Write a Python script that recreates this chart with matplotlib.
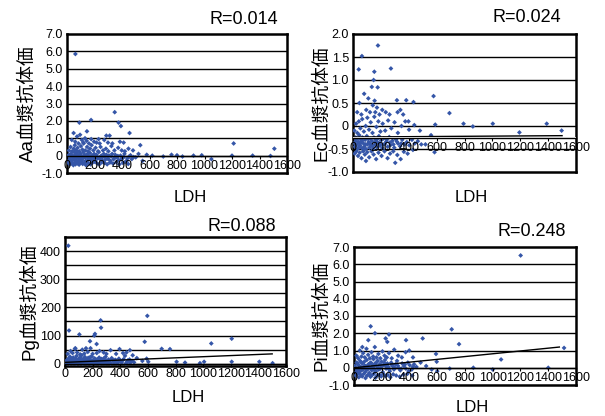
import matplotlib
matplotlib.use("Agg")
import matplotlib.pyplot as plt
import numpy as np

plt.rcParams['font.family'] = ['Liberation Sans', 'Noto Sans CJK JP', 'DejaVu Sans']

# ---------------- data ----------------
x_ticks = [0, 200, 400, 600, 800, 1000, 1200, 1400, 1600]

aa_points = [
    (8,-0.1),(15,0.05),(22,-0.2),(28,0.1),(33,-0.3),(41,0.0),(47,-0.15),(52,0.2),(58,-0.25),(63,0.05),
    (69,-0.1),(74,0.15),(81,-0.3),(86,0.0),(92,-0.2),(98,0.1),(104,-0.05),(111,-0.25),(117,0.2),(123,-0.1),
    (129,0.05),(136,-0.3),(142,0.0),(149,0.1),(155,-0.2),(162,-0.05),(168,0.15),(175,-0.25),(183,0.0),(190,-0.1),
    (198,0.1),(206,-0.3),(214,0.05),(223,-0.15),(231,0.2),(240,-0.2),(249,0.0),(258,-0.1),(268,0.1),(277,-0.25),
    (287,0.05),(296,-0.15),(306,0.0),(317,-0.3),(328,0.1),(339,-0.2),(351,0.05),(363,-0.1),(376,-0.25),(389,0.0),
    (403,-0.15),(418,0.1),(434,-0.3),(452,-0.05),(471,-0.2),
    (5,-0.05),(17,-0.25),(25,-0.08),(43,-0.22),(54,-0.02),(67,-0.18),(83,-0.06),(100,-0.17),(119,-0.02),(134,-0.12),
    (151,-0.04),(166,-0.18),(181,-0.08),(199,-0.22),(218,-0.05),(236,-0.12),(255,-0.28),(275,-0.06),(300,-0.2),(322,-0.04),
    (345,-0.14),(370,-0.02),(395,-0.22),(412,-0.08),(440,-0.16),(462,0.02),(485,-0.08),
    (10,-0.4),(20,-0.5),(30,-0.35),(38,-0.45),(46,-0.55),(55,-0.4),(62,-0.5),(71,-0.38),(79,-0.45),(88,-0.52),
    (96,-0.4),(107,-0.35),(114,-0.48),(126,-0.42),(138,-0.55),(147,-0.38),(158,-0.45),(171,-0.5),(186,-0.4),(201,-0.35),
    (219,-0.45),(236,-0.5),(254,-0.38),(273,-0.42),(292,-0.5),(312,-0.4),(334,-0.45),(358,-0.38),(381,-0.5),(407,-0.42),
    (426,-0.35),(445,-0.48),
    (14,0.3),(26,0.5),(37,0.25),(49,0.4),(57,0.6),(66,0.3),(77,0.45),(89,0.25),(101,0.55),(112,0.35),
    (121,0.7),(133,0.3),(146,0.5),(153,0.25),(167,0.4),(179,0.6),(192,0.3),(208,0.45),(226,0.25),(244,0.5),
    (262,0.3),(283,0.4),(301,0.25),(323,0.55),(345,0.3),(372,0.45),(398,0.3),(421,0.25),(447,0.4),(480,0.3),
    (35,0.9),(48,1.3),(60,0.8),(73,1.1),(84,0.7),(95,1.2),(108,0.9),(119,0.75),(131,1.0),(143,0.85),
    (160,0.7),(176,0.95),(197,0.8),(215,0.75),(238,0.7),(271,0.9),(298,0.75),(330,0.7),(385,0.8),(412,0.75),
    (61,5.85),(90,1.9),(175,2.05),(347,2.5),(375,1.9),(392,1.7),(455,1.3),(286,1.15),(310,1.15),(230,0.95),
    (145,1.4),(533,0.6),(1212,0.7),(1508,0.4),(580,0.05),(620,0.0),(700,-0.05),(760,0.05),(800,0.02),(840,-0.05),
    (920,0.0),(980,0.02),(1050,-0.2),(1200,0.0),(1350,0.0),(1480,-0.02),(500,-0.1),(520,0.1),(550,-0.3),
]

ec_points = [
    (8,-0.3),(14,-0.45),(20,-0.25),(27,-0.4),(33,-0.5),(39,-0.35),(45,-0.2),(51,-0.42),(57,-0.3),(63,-0.48),
    (69,-0.25),(75,-0.38),(81,-0.45),(87,-0.3),(93,-0.5),(99,-0.22),(105,-0.4),(112,-0.35),(118,-0.47),(124,-0.28),
    (131,-0.42),(137,-0.33),(144,-0.5),(150,-0.25),(157,-0.4),(164,-0.3),(171,-0.46),(178,-0.36),(186,-0.22),(194,-0.43),
    (202,-0.31),(211,-0.48),(220,-0.27),(229,-0.39),(239,-0.34),(249,-0.45),(260,-0.24),(271,-0.41),(283,-0.32),(296,-0.47),
    (309,-0.29),(323,-0.38),(338,-0.44),(353,-0.3),(369,-0.4),(386,-0.35),(404,-0.42),(423,-0.3),(443,-0.38),(465,-0.33),
    (490,-0.4),
    (5,-0.36),(17,-0.33),(30,-0.28),(42,-0.46),(54,-0.37),(66,-0.32),(78,-0.5),(90,-0.4),(108,-0.28),(121,-0.38),
    (140,-0.44),(160,-0.35),(175,-0.28),(190,-0.38),(215,-0.4),(243,-0.3),(265,-0.36),(290,-0.4),(315,-0.34),(345,-0.38),
    (12,-0.6),(24,-0.55),(36,-0.65),(48,-0.58),(61,-0.7),(73,-0.55),(85,-0.62),(102,-0.57),(116,-0.68),(133,-0.55),
    (148,-0.62),(166,-0.72),(183,-0.58),(205,-0.65),(226,-0.55),(248,-0.7),(266,-0.6),(289,-0.55),(318,-0.63),(342,-0.72),
    (365,-0.56),(392,-0.6),(430,-0.52),
    (10,-0.1),(22,0.05),(31,-0.15),(42,0.1),(53,-0.05),(66,0.15),(78,-0.12),(91,0.0),(103,0.18),(115,-0.08),
    (127,0.08),(140,-0.15),(153,0.2),(168,-0.02),(182,0.1),(197,-0.12),(213,0.05),(231,-0.1),(252,0.12),(275,-0.05),
    (298,0.08),(322,-0.15),(348,0.0),(375,0.1),(402,-0.08),(440,0.02),(480,-0.1),
    (30,0.3),(46,0.5),(60,0.25),(80,0.7),(95,0.35),(110,0.6),(122,0.3),(135,0.85),(142,0.45),(155,0.55),
    (160,0.3),(172,0.4),(190,0.25),(210,0.35),(235,0.3),(262,0.25),(320,0.3),(340,0.35),(360,0.25),(398,0.1),
    (179,1.75),(64,1.52),(41,1.23),(153,1.18),(148,1.0),(272,1.25),(177,0.84),(578,0.65),(692,0.28),(315,0.56),
    (382,0.56),(434,0.52),(590,0.03),(793,0.05),(860,-0.01),(1003,0.05),(1194,-0.14),(1390,0.05),(1497,-0.1),(585,-0.57),
    (93,-0.76),(303,-0.8),(560,-0.2),(520,-0.4),
]

pg_points = [
    (6,5),(12,12),(18,3),(24,18),(30,8),(36,25),(42,4),(48,14),(54,9),(60,22),
    (66,3),(72,15),(78,7),(84,28),(90,11),(96,4),(102,19),(108,8),(114,13),(120,30),
    (126,5),(132,17),(138,10),(144,24),(150,6),(156,14),(162,9),(168,21),(174,4),(180,16),
    (187,11),(194,26),(201,6),(208,13),(215,19),(223,8),(231,15),(239,4),(247,22),(256,10),
    (265,17),(274,6),(284,12),(294,25),(304,8),(315,15),(326,5),(338,20),(350,10),(363,14),
    (376,6),(390,18),(404,9),(419,13),(434,28),(450,7),(467,15),(485,10),(500,5),
    (10,2),(20,6),(33,1),(45,7),(57,2),(69,5),(81,1),(93,6),(105,2),(117,4),
    (129,1),(141,7),(153,3),(165,2),(177,6),(189,1),(205,4),(220,2),(236,5),(252,1),
    (270,3),(290,2),(310,4),(330,1),(355,3),(380,2),(410,4),(440,1),(470,3),
    (15,9),(27,14),(39,10),(51,18),(63,11),(75,20),(87,8),(99,12),(111,22),(123,10),
    (135,14),(147,18),(159,12),(171,10),(183,24),(196,9),(212,16),(228,11),(244,14),(261,9),
    (279,18),(298,12),(320,10),(342,16),(368,12),(396,10),(425,16),(455,12),(480,8),
    (20,35),(40,45),(55,38),(75,55),(88,40),(110,33),(125,50),(140,36),(165,42),(185,55),
    (200,35),(230,38),(250,45),(280,40),(300,35),(330,48),(370,35),(395,52),(420,38),(445,40),
    (470,48),(490,30),
    (24,419),(29,118),(104,104),(181,80),(212,100),(217,106),(258,154),(261,128),(229,70),(152,55),
    (72,53),(596,170),(577,78),(591,18),(700,53),(760,52),(1059,72),(1207,89),(603,7),(808,7),
    (869,4),(977,2),(1007,7),(1207,7),(1407,7),(1503,2),(520,20),(560,10),
]

pi_points = [
    (8,0.0),(14,-0.2),(20,0.3),(26,-0.1),(32,0.15),(38,-0.3),(44,0.4),(50,0.05),(56,-0.15),(62,0.25),
    (68,-0.05),(74,0.35),(80,-0.25),(86,0.1),(92,0.45),(98,-0.1),(104,0.2),(110,-0.3),(116,0.0),(122,0.3),
    (128,-0.15),(134,0.15),(140,0.5),(146,-0.05),(152,0.25),(158,-0.2),(164,0.1),(171,0.4),(178,-0.1),(185,0.2),
    (192,0.0),(199,0.35),(207,-0.25),(215,0.15),(223,0.45),(231,-0.05),(240,0.25),(249,0.05),(258,-0.2),(268,0.3),
    (278,0.1),(288,-0.1),(299,0.2),(310,0.4),(322,0.0),(334,-0.15),(347,0.25),(360,0.1),(374,-0.05),(388,0.3),
    (402,0.15),(417,-0.1),(433,0.2),(450,0.05),
    (5,0.1),(17,-0.05),(29,0.2),(41,-0.18),(53,0.3),(65,0.0),(77,0.12),(89,-0.12),(101,0.05),(113,0.25),
    (125,-0.05),(137,0.08),(149,-0.15),(161,0.3),(174,0.02),(188,-0.05),(202,0.12),(218,0.28),(234,0.08),(252,-0.08),
    (272,0.18),(294,0.0),(316,0.12),(340,-0.05),(366,0.18),(394,-0.2),(425,0.05),
    (12,-0.45),(23,-0.35),(35,-0.55),(47,-0.4),(59,-0.5),(71,-0.35),(83,-0.6),(95,-0.45),(107,-0.38),(119,-0.52),
    (131,-0.42),(143,-0.35),(155,-0.58),(168,-0.45),(182,-0.4),(196,-0.5),(211,-0.36),(227,-0.48),(244,-0.42),(262,-0.55),
    (282,-0.38),(304,-0.45),(330,-0.52),(356,-0.4),(385,-0.35),(420,-0.45),
    (18,0.7),(30,0.55),(42,1.0),(54,0.65),(66,0.85),(78,0.6),(90,1.1),(102,0.75),(114,0.55),(126,0.9),
    (138,0.65),(150,1.2),(162,0.6),(176,0.8),(190,0.55),(205,0.95),(220,0.7),(236,0.6),(252,0.85),(272,0.55),
    (290,1.05),(318,0.7),(345,0.6),(372,0.9),(398,1.0),(425,0.6),
    (1201,6.51),(704,2.23),(757,1.37),(495,1.7),(375,1.6),(120,2.4),(151,2.0),(252,1.93),(228,1.7),(103,1.6),
    (591,0.8),(596,0.35),(1060,0.48),(1514,1.15),(480,0.3),(520,0.1),(560,-0.1),(600,-0.2),(690,-0.05),(860,0.0),
    (1000,-0.1),(1400,0.0),(240,1.5),(60,1.2),
]

# trend lines (start, end)
ec_trend_x = [0, 1500]; ec_trend_y = [-0.24, -0.21]
pg_trend_x = [0, 1500]; pg_trend_y = [5, 35]
pi_trend_x = [0, 1480]; pi_trend_y = [0.0, 1.2]

r_labels = ["R=0.014", "R=0.024", "R=0.088", "R=0.248"]
y_labels = ["Aa血漿抗体価", "Ec血漿抗体価", "Pg血漿抗体価", "Pi血漿抗体価"]

# ---------------- drawing ----------------
W, H = 605, 416
fig = plt.figure(figsize=(W / 100, H / 100), dpi=100)
fig.patch.set_facecolor('white')

def px_axes(left, top, right, bottom):
    return fig.add_axes([left / W, (H - bottom) / H, (right - left) / W, (bottom - top) / H])

DOT = '#3556a8'
TICKFS = 9

def fmt1(v):
    return "0" if v == 0 else f"{v:.1f}"

def panel(ax, pts, ylim, yticks, ylabels, grid, xaxis_y, trend=None):
    xs = [p[0] for p in pts]; ys = [p[1] for p in pts]
    ax.set_xlim(0, 1600)
    ax.set_ylim(*ylim)
    for g in grid:
        ax.axhline(g, color='black', lw=1.0, zorder=1)
    ax.scatter(xs, ys, s=6, marker='D', color=DOT, edgecolors='none', zorder=3)
    if trend is not None:
        ax.plot(trend[0], trend[1], color='black', lw=1.0, zorder=4)
    ax.set_xticks([])
    ax.set_yticks(yticks)
    ax.set_yticklabels(ylabels, fontsize=TICKFS)
    ax.tick_params(axis='y', length=0, pad=3)
    for s in ax.spines.values():
        s.set_linewidth(1.8)
        s.set_color('black')
    loc = (xaxis_y - ylim[0]) / (ylim[1] - ylim[0])
    sec = ax.secondary_xaxis(loc)
    sec.set_xticks(x_ticks)
    sec.set_xticklabels([str(v) for v in x_ticks], fontsize=TICKFS)
    sec.tick_params(axis='x', length=2, width=0.8, pad=1)
    sec.spines['bottom'].set_linewidth(1.0)
    sec.set_zorder(5)

ax1 = px_axes(67, 34, 287, 173)
yt = [-1, 0, 1, 2, 3, 4, 5, 6, 7]
panel(ax1, aa_points, (-1, 7), yt, [fmt1(v) for v in yt], yt[1:-1], 0)

ax2 = px_axes(353, 34, 576, 172)
yt2 = [-1.0, -0.5, 0, 0.5, 1.0, 1.5, 2.0]
panel(ax2, ec_points, (-1, 2), yt2, [fmt1(v) for v in yt2], [-0.5, 0, 0.5, 1.0, 1.5], -0.25,
      (ec_trend_x, ec_trend_y))

ax3 = px_axes(65, 237, 286, 366)
yt3 = [0, 100, 200, 300, 400]
panel(ax3, pg_points, (-8, 450), yt3, [str(v) for v in yt3], [0, 50, 100, 150, 200, 250, 300, 350, 400], 0,
      (pg_trend_x, pg_trend_y))

ax4 = px_axes(354, 247, 576, 385)
panel(ax4, pi_points, (-1, 7), yt, [fmt1(v) for v in yt], yt[1:-1], 0, (pi_trend_x, pi_trend_y))

# R labels
for (x, y), t in zip([(244, 19), (527, 17), (242, 227), (532, 232)], r_labels):
    fig.text(x / W, 1 - y / H, t, fontsize=13, ha='center', va='center')
# x labels
for (x, y) in [(190, 197), (471, 197), (188, 398), (472, 408)]:
    fig.text(x / W, 1 - y / H, "LDH", fontsize=12, ha='center', va='center')
# y labels
for (x, y), t in zip([(28, 104), (322, 103), (28, 302), (322, 316)], y_labels):
    fig.text(x / W, 1 - y / H, t, fontsize=13.5, ha='center', va='center', rotation=90,
             family=['Liberation Sans', 'Noto Sans CJK JP'])

fig.savefig("out.png", dpi=100, facecolor='white')
